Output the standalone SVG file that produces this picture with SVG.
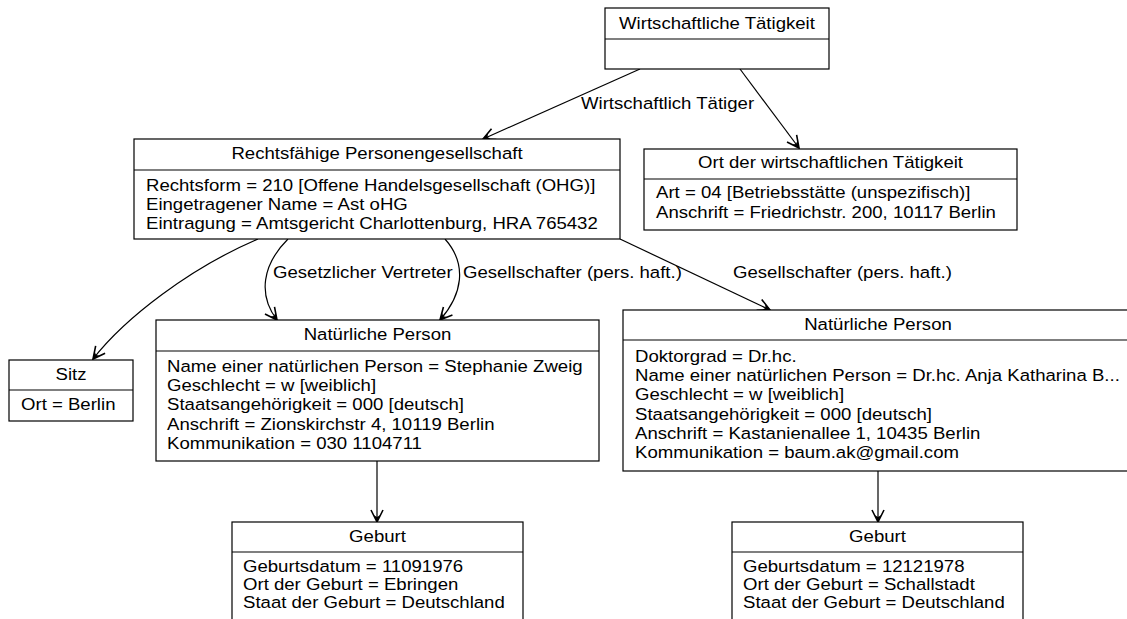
<svg xmlns="http://www.w3.org/2000/svg" width="1127" height="619" viewBox="0 0 1127 619">
<style>
text{font-family:"Liberation Sans",Arial,sans-serif;font-size:16.6px;fill:#000}
.c{text-anchor:middle}
.box{fill:#fff;stroke:#000;stroke-width:1.2}
.div{stroke:#000;stroke-width:1.2}
.edge{fill:none;stroke:#000;stroke-width:1.2;marker-end:url(#arr)}
</style>
<defs>
<marker id="arr" viewBox="-14 -8 16 16" refX="0" refY="0" markerWidth="16" markerHeight="16" orient="auto" markerUnits="userSpaceOnUse">
<path d="M-12,-6 L0,0 L-12,6" fill="none" stroke="#000" stroke-width="1.6"/>
<path d="M0,0 L-7,-3.5 L-5,0 L-7,3.5z" fill="#000"/>
</marker>
</defs>
<g id="connectors">
<path class="edge" d="M640,69 L483,139"/>
<path class="edge" d="M740,69 L799,148"/>
<path class="edge" d="M258,239 C190,268 125,318 93,359"/>
<path class="edge" d="M288,239 C262,265 258,295 277,320"/>
<path class="edge" d="M445,239 C468,265 462,295 440,320"/>
<path class="edge" d="M620,239 L770,310"/>
<path class="edge" d="M377,461 L377,522"/>
<path class="edge" d="M878,471 L878,522"/>
<text transform="translate(581 109) scale(1.12 1)">Wirtschaftlich Tätiger</text>
<text transform="translate(273 278) scale(1.12 1)">Gesetzlicher Vertreter</text>
<text transform="translate(463 278) scale(1.12 1)">Gesellschafter (pers. haft.)</text>
<text transform="translate(733 278) scale(1.12 1)">Gesellschafter (pers. haft.)</text>
</g>
<g id="wirtschaftliche-taetigkeit">
<rect class="box" x="605" y="8" width="224" height="61"/>
<line class="div" x1="605" y1="39" x2="829" y2="39"/>
<text class="c" transform="translate(717 29) scale(1.12 1)">Wirtschaftliche Tätigkeit</text>
</g>
<g id="rechtsfaehige-personengesellschaft">
<rect class="box" x="134" y="139" width="486" height="100"/>
<line class="div" x1="134" y1="170" x2="620" y2="170"/>
<text class="c" transform="translate(377 159) scale(1.12 1)">Rechtsfähige Personengesellschaft</text>
<text transform="translate(146 191) scale(1.12 1)">Rechtsform = 210 [Offene Handelsgesellschaft (OHG)]</text>
<text transform="translate(146 210) scale(1.12 1)">Eingetragener Name = Ast oHG</text>
<text transform="translate(146 229) scale(1.12 1)">Eintragung = Amtsgericht Charlottenburg, HRA 765432</text>
</g>
<g id="ort-wirtschaftliche-taetigkeit">
<rect class="box" x="644" y="149" width="373" height="81"/>
<line class="div" x1="644" y1="179" x2="1017" y2="179"/>
<text class="c" transform="translate(830.5 168) scale(1.12 1)">Ort der wirtschaftlichen Tätigkeit</text>
<text transform="translate(656 198) scale(1.12 1)">Art = 04 [Betriebsstätte (unspezifisch)]</text>
<text transform="translate(656 218) scale(1.12 1)">Anschrift = Friedrichstr. 200, 10117 Berlin</text>
</g>
<g id="sitz">
<rect class="box" x="9" y="360" width="124" height="61"/>
<line class="div" x1="9" y1="390" x2="133" y2="390"/>
<text class="c" transform="translate(71 380) scale(1.12 1)">Sitz</text>
<text transform="translate(21 410) scale(1.12 1)">Ort = Berlin</text>
</g>
<g id="person1">
<rect class="box" x="156" y="320" width="443" height="141"/>
<line class="div" x1="156" y1="351" x2="599" y2="351"/>
<text class="c" transform="translate(377.5 340) scale(1.12 1)">Natürliche Person</text>
<text transform="translate(167 372) scale(1.12 1)">Name einer natürlichen Person = Stephanie Zweig</text>
<text transform="translate(167 391) scale(1.12 1)">Geschlecht = w [weiblich]</text>
<text transform="translate(167 410) scale(1.12 1)">Staatsangehörigkeit = 000 [deutsch]</text>
<text transform="translate(167 430) scale(1.12 1)">Anschrift = Zionskirchstr 4, 10119 Berlin</text>
<text transform="translate(167 449) scale(1.12 1)">Kommunikation = 030 1104711</text>
</g>
<g id="person2">
<rect class="box" x="623" y="310" width="510" height="161"/>
<line class="div" x1="623" y1="340" x2="1133" y2="340"/>
<text class="c" transform="translate(878 330) scale(1.12 1)">Natürliche Person</text>
<text transform="translate(635 362) scale(1.12 1)">Doktorgrad = Dr.hc.</text>
<text transform="translate(635 381) scale(1.12 1)">Name einer natürlichen Person = Dr.hc. Anja Katharina B...</text>
<text transform="translate(635 400) scale(1.12 1)">Geschlecht = w [weiblich]</text>
<text transform="translate(635 420) scale(1.12 1)">Staatsangehörigkeit = 000 [deutsch]</text>
<text transform="translate(635 439) scale(1.12 1)">Anschrift = Kastanienallee 1, 10435 Berlin</text>
<text transform="translate(635 458) scale(1.12 1)">Kommunikation = baum.ak@gmail.com</text>
</g>
<g id="geburt1">
<rect class="box" x="232" y="522" width="291" height="120"/>
<line class="div" x1="232" y1="552" x2="523" y2="552"/>
<text class="c" transform="translate(377.5 542) scale(1.12 1)">Geburt</text>
<text transform="translate(243 572) scale(1.12 1)">Geburtsdatum = 11091976</text>
<text transform="translate(243 590) scale(1.12 1)">Ort der Geburt = Ebringen</text>
<text transform="translate(243 608) scale(1.12 1)">Staat der Geburt = Deutschland</text>
</g>
<g id="geburt2">
<rect class="box" x="732" y="522" width="291" height="120"/>
<line class="div" x1="732" y1="552" x2="1023" y2="552"/>
<text class="c" transform="translate(877.5 542) scale(1.12 1)">Geburt</text>
<text transform="translate(743 572) scale(1.12 1)">Geburtsdatum = 12121978</text>
<text transform="translate(743 590) scale(1.12 1)">Ort der Geburt = Schallstadt</text>
<text transform="translate(743 608) scale(1.12 1)">Staat der Geburt = Deutschland</text>
</g>
</svg>
